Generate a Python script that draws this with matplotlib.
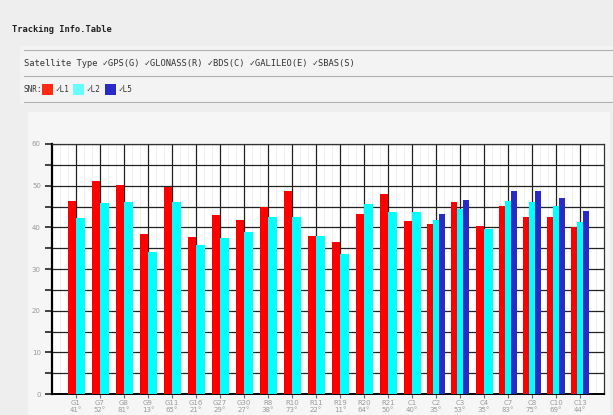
import numpy as np
import matplotlib
matplotlib.use('Agg')
import matplotlib.pyplot as plt
from matplotlib.patches import Rectangle
from matplotlib.ticker import MultipleLocator

# satellites and elevation angles
sats = ['G1', 'G7', 'G8', 'G9', 'G11', 'G16', 'G27', 'G30', 'R8', 'R10', 'R11',
        'R19', 'R20', 'R21', 'C1', 'C2', 'C3', 'C4', 'C7', 'C8', 'C10', 'C13']
elev = [41, 52, 81, 13, 65, 21, 29, 27, 38, 73, 22, 11, 64, 50, 40, 35, 53, 35, 83, 75, 69, 44]
# SNR values (None = no signal)
snr_l1 = [46.2, 51.0, 50.2, 38.3, 49.8, 37.7, 43.0, 41.7, 45.0, 48.8, 37.9,
          36.5, 43.1, 47.9, 41.5, 40.9, 46.1, 40.2, 45.1, 42.5, 42.5, 40.1]
snr_l2 = [42.2, 45.9, 46.0, 34.1, 46.0, 35.7, 37.5, 38.9, 42.5, 42.5, 38.0,
          33.7, 45.6, 43.8, 43.6, 41.8, 44.4, 39.7, 46.2, 46.0, 45.1, 41.4]
snr_l5 = [None, None, None, None, None, None, None, None, None, None, None,
          None, None, None, None, 43.1, 46.6, None, 48.8, 48.6, 47.1, 44.0]

W, H = 613, 415
fig = plt.figure(figsize=(W/100, H/100), dpi=100)
fig.patch.set_facecolor('#eeeeee')

def fx(px):
    return px/W
def fy(py):
    return 1 - py/H

mono = 'DejaVu Sans Mono'

# header
fig.text(fx(12), fy(29), 'Tracking Info.Table', fontsize=6.3, fontweight='bold',
         family=mono, va='center', color='#222222')
fig.add_artist(Rectangle((fx(20), fy(104)), fx(593), fy(46)-fy(104), transform=fig.transFigure,
                         facecolor='#f3f3f3', edgecolor='none', zorder=-10))
for yy in [50, 76, 102]:
    fig.add_artist(plt.Line2D([fx(24), 1], [fy(yy), fy(yy)], transform=fig.transFigure,
                              color='#b0b0b0', lw=0.8, zorder=-5))
fig.text(fx(24), fy(63), 'Satellite Type \u2713GPS(G) \u2713GLONASS(R) \u2713BDS(C) \u2713GALILEO(E) \u2713SBAS(S)',
         fontsize=6.3, family=mono, va='center', color='#333333')
fig.text(fx(24), fy(89), 'SNR:', fontsize=5.5, family=mono, va='center', color='#333333')
legend_items = [('#ff2a10', 42, '\u2713L1'), ('#66ffff', 73, '\u2713L2'), ('#2a2ac8', 105, '\u2713L5')]
for col, x0, lab in legend_items:
    fig.add_artist(Rectangle((fx(x0), fy(95)), fx(11), fy(84)-fy(95), transform=fig.transFigure,
                             facecolor=col, edgecolor='none'))
    fig.text(fx(x0+13), fy(89), lab, fontsize=5.5, family=mono, va='center', color='#333333')

# chart panel
fig.add_artist(Rectangle((fx(28), 0), fx(582), fy(112), transform=fig.transFigure,
                         facecolor='#f6f6f6', edgecolor='none', zorder=-10))

ax = fig.add_axes([fx(52), fy(394), fx(604)-fx(52), fy(144)-fy(394)])
ax.set_zorder(5)
ax.set_facecolor('white')
ax.set_xlim(0, 23)
ax.set_ylim(0, 60)

x = np.arange(1, len(sats)+1)
for i in range(len(sats)):
    if snr_l5[i] is None:
        ax.bar(x[i], snr_l1[i], width=-0.35, align='edge', color='#ff0000', zorder=3)
        ax.bar(x[i], snr_l2[i], width=0.37, align='edge', color='#00ffff', zorder=3)
    else:
        ax.bar(x[i]-0.25, snr_l1[i], width=0.25, color='#ff0000', zorder=3)
        ax.bar(x[i], snr_l2[i], width=0.25, color='#00ffff', zorder=3)
        ax.bar(x[i]+0.25, snr_l5[i], width=0.25, color='#2a2ac8', zorder=3)

ax.set_xticks(x)
ax.set_xticklabels([f'{s}\n{e}\u00b0' for s, e in zip(sats, elev)], fontsize=5, color='#999999',
                   linespacing=1.3)
ax.yaxis.set_major_locator(MultipleLocator(10))
ax.yaxis.set_minor_locator(MultipleLocator(5))
ax.xaxis.set_minor_locator(MultipleLocator(1/3))
ax.tick_params(axis='y', which='both', length=5, width=1.2, colors='#222222', labelsize=5,
               labelcolor='#999999', direction='out', pad=3)
ax.tick_params(axis='x', which='major', length=3, width=0.8, colors='#666666', labelcolor='#999999', pad=1)
ax.tick_params(axis='x', which='minor', length=0)

ax.grid(True, which='major', axis='x', color='#222222', lw=0.9, zorder=1)
ax.grid(True, which='both', axis='y', color='#222222', lw=0.9, zorder=1)
ax.grid(True, which='minor', axis='x', color='#ece6e6', lw=0.5, zorder=0)
ax.set_axisbelow(True)
for sp in ['top', 'right']:
    ax.spines[sp].set_color('#333333')
    ax.spines[sp].set_linewidth(0.9)
ax.spines['left'].set_linewidth(1.6)
ax.spines['bottom'].set_linewidth(1.4)

fig.savefig('out.png', dpi=100, facecolor=fig.get_facecolor())
